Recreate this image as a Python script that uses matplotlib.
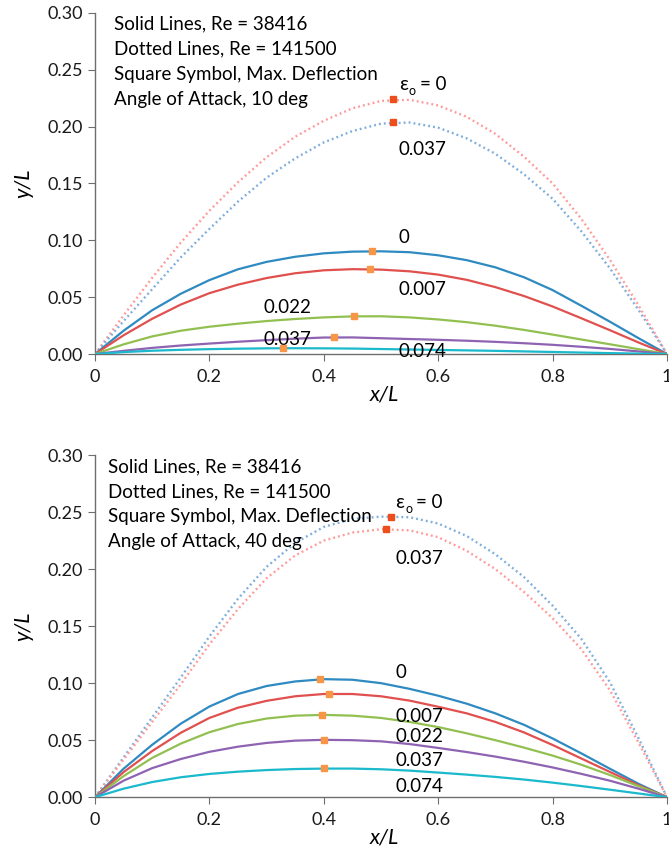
import matplotlib
import matplotlib.pyplot as plt

matplotlib.use("Agg")

X_GRID = [0.0, 0.05, 0.10, 0.15, 0.20, 0.25, 0.30, 0.35, 0.40, 0.45, 0.50,
          0.55, 0.60, 0.65, 0.70, 0.75, 0.80, 0.85, 0.90, 0.95, 1.0]

X_TICKS = [0, 0.2, 0.4, 0.6, 0.8, 1.0]
X_TICK_LABELS = ["0", "0.2", "0.4", "0.6", "0.8", "1"]
Y_TICKS = [0.0, 0.05, 0.10, 0.15, 0.20, 0.25, 0.30]
Y_TICK_LABELS = ["0.00", "0.05", "0.10", "0.15", "0.20", "0.25", "0.30"]

NOTES_10 = ["Solid Lines, Re = 38416", "Dotted Lines, Re = 141500",
            "Square Symbol, Max. Deflection", "Angle of Attack, 10 deg"]
NOTES_40 = ["Solid Lines, Re = 38416", "Dotted Lines, Re = 141500",
            "Square Symbol, Max. Deflection", "Angle of Attack, 40 deg"]

SOLID_EPS = ["0", "0.007", "0.022", "0.037", "0.074"]

# angle of attack 10 deg, Re = 38416 (solid)
AOA10_SOLID = [
    [0, 0.0205, 0.0385, 0.053, 0.065, 0.0745, 0.081, 0.0855, 0.0885, 0.0900, 0.0903,
     0.0895, 0.0868, 0.0825, 0.0762, 0.0675, 0.0562, 0.0425, 0.0285, 0.014, 0],
    [0, 0.0165, 0.031, 0.0435, 0.0535, 0.061, 0.0668, 0.071, 0.0736, 0.0746, 0.0742,
     0.0727, 0.0698, 0.0652, 0.0588, 0.051, 0.0418, 0.0315, 0.021, 0.0102, 0],
    [0, 0.0085, 0.0155, 0.0205, 0.024, 0.0267, 0.029, 0.0308, 0.0322, 0.0331, 0.0332,
     0.0322, 0.0304, 0.028, 0.0249, 0.0212, 0.0171, 0.0128, 0.0086, 0.0043, 0],
    [0, 0.0028, 0.0054, 0.0075, 0.0092, 0.0108, 0.0122, 0.0135, 0.0145, 0.0146, 0.0139,
     0.0132, 0.0125, 0.0117, 0.0107, 0.0095, 0.0081, 0.0064, 0.0045, 0.0023, 0],
    [0, 0.0017, 0.0029, 0.0037, 0.0043, 0.0047, 0.005, 0.0051, 0.005, 0.0048, 0.0044,
     0.004, 0.0036, 0.0032, 0.0028, 0.0023, 0.0018, 0.0013, 0.0008, 0.0004, 0],
]
AOA10_SOLID_MAX_X = [0.485, 0.481, 0.453, 0.418, 0.329]
AOA10_SOLID_MAX_Y = [0.0905, 0.0746, 0.0332, 0.0150, 0.0053]

# angle of attack 10 deg, Re = 141500 (dotted): eps = 0, 0.037
AOA10_DOTTED = [
    [0, 0.034, 0.067, 0.098, 0.126, 0.151, 0.173, 0.191, 0.205, 0.216, 0.2225,
     0.2235, 0.2185, 0.2085, 0.1935, 0.1735, 0.150, 0.119, 0.083, 0.043, 0],
    [0, 0.029, 0.057, 0.085, 0.110, 0.134, 0.155, 0.172, 0.186, 0.196, 0.2025,
     0.2035, 0.199, 0.1895, 0.176, 0.158, 0.1365, 0.108, 0.0755, 0.039, 0],
]
AOA10_DOTTED_MAX_X = [0.521, 0.521]
AOA10_DOTTED_MAX_Y = [0.224, 0.204]

# angle of attack 40 deg, Re = 38416 (solid)
AOA40_SOLID = [
    [0, 0.025, 0.046, 0.0645, 0.0795, 0.0905, 0.0975, 0.1015, 0.1035, 0.103, 0.100,
     0.095, 0.089, 0.082, 0.0735, 0.0635, 0.0515, 0.0385, 0.025, 0.0118, 0],
    [0, 0.022, 0.0405, 0.0565, 0.0695, 0.0785, 0.0845, 0.0885, 0.0905, 0.0905, 0.0885,
     0.0847, 0.0793, 0.0735, 0.066, 0.0568, 0.0458, 0.034, 0.0222, 0.0106, 0],
    [0, 0.0185, 0.0345, 0.047, 0.057, 0.0642, 0.069, 0.0715, 0.0722, 0.0715, 0.0695,
     0.066, 0.0615, 0.056, 0.050, 0.0435, 0.0365, 0.0285, 0.0195, 0.0097, 0],
    [0, 0.0145, 0.0255, 0.0335, 0.0398, 0.0443, 0.0476, 0.0496, 0.0503, 0.050, 0.049,
     0.0466, 0.0432, 0.0396, 0.0356, 0.0311, 0.0261, 0.0205, 0.0145, 0.0075, 0],
    [0, 0.0075, 0.0133, 0.0175, 0.0204, 0.0224, 0.0238, 0.0247, 0.0251, 0.0251, 0.0245,
     0.0233, 0.0216, 0.0198, 0.0178, 0.0155, 0.0128, 0.0098, 0.0066, 0.0033, 0],
]
AOA40_SOLID_MAX_X = [0.393, 0.409, 0.397, 0.400, 0.400]
AOA40_SOLID_MAX_Y = [0.1036, 0.0907, 0.0720, 0.0503, 0.0252]

# angle of attack 40 deg, Re = 141500 (dotted): eps = 0, 0.037
AOA40_DOTTED = [
    [0, 0.035, 0.070, 0.105, 0.141, 0.174, 0.202, 0.223, 0.237, 0.244, 0.246,
     0.2455, 0.240, 0.229, 0.213, 0.193, 0.168, 0.139, 0.101, 0.052, 0],
    [0, 0.033, 0.066, 0.099, 0.134, 0.165, 0.192, 0.212, 0.225, 0.232, 0.235,
     0.234, 0.228, 0.216, 0.200, 0.180, 0.157, 0.130, 0.094, 0.048, 0],
]
AOA40_DOTTED_MAX_X = [0.518, 0.509]
AOA40_DOTTED_MAX_Y = [0.246, 0.235]

SOLID_COLORS = ["#2f8ac1", "#e0504e", "#92c050", "#8e63b2", "#1ab9cc"]
SOLID_MARK = "#f79646"
DOTTED_MARK = "#ee4d1c"

plt.rcParams["font.family"] = ["Lato", "DejaVu Sans"]
plt.rcParams["font.size"] = 13.5


def draw_panel(ax, solid, s_mx, s_my, dotted, d_mx, d_my, dotted_colors,
               notes, note_x, label_x, label_ys, eps_y, dot_lab_y):
    """
    Description:
        Draw one deflection panel (solid + dotted curves, max markers, labels).
    """
    for ys, c in zip(dotted, dotted_colors):
        ax.plot(X_GRID, ys, color=c, lw=1.7, ls=(0, (0.8, 1.3)), zorder=2)
    ax.plot(d_mx, d_my, "s", color=DOTTED_MARK, ms=4.5, zorder=5)

    for ys, c in zip(solid, SOLID_COLORS):
        ax.plot(X_GRID, ys, color=c, lw=1.6, zorder=3, solid_joinstyle="round")
    ax.plot(s_mx, s_my, "s", color=SOLID_MARK, ms=4.5, zorder=5)

    for i, t in enumerate(notes):
        ax.text(note_x, 0.290 - 0.022 * i, t, ha="left", va="center")

    # eps_o = 0 label
    ax.text(label_x, eps_y, "ε", ha="left", va="center", fontsize=14)
    ax.annotate("o", (label_x, eps_y), xytext=(7.2, -4.5), textcoords="offset points",
                ha="left", va="center", fontsize=9)
    ax.annotate("= 0", (label_x, eps_y), xytext=(15, 0), textcoords="offset points",
                ha="left", va="center")
    ax.text(label_x, dot_lab_y, "0.037", ha="left", va="center")

    for (lx, ly), t in zip(label_ys, SOLID_EPS):
        ax.text(lx, ly, t, ha="left", va="center")

    ax.set_xlim(0, 1)
    ax.set_ylim(0, 0.30)
    ax.set_xticks(X_TICKS)
    ax.set_xticklabels(X_TICK_LABELS)
    ax.set_yticks(Y_TICKS)
    ax.set_yticklabels(Y_TICK_LABELS)
    for s in ("top", "right"):
        ax.spines[s].set_visible(False)
    for s in ("left", "bottom"):
        ax.spines[s].set_color("#6e6e6e")
        ax.spines[s].set_linewidth(1.0)
    ax.tick_params(direction="out", length=5, color="#6e6e6e", labelsize=13,
                   labelcolor="#1a1a1a")
    ax.tick_params(axis="x", pad=6)
    ax.set_xlabel("x/L", style="italic", fontsize=15.5)
    ax.set_ylabel("y/L", style="italic", fontsize=15.5)
    ax.xaxis.set_label_coords(0.505, -0.088)
    ax.yaxis.set_label_coords(-0.108, 0.5)


def main():
    fig = plt.figure(figsize=(6.69, 8.49), dpi=100)
    ax1 = fig.add_axes([0.142, 0.583, 0.855, 0.402])
    ax2 = fig.add_axes([0.142, 0.061, 0.855, 0.403])

    draw_panel(ax1, AOA10_SOLID, AOA10_SOLID_MAX_X, AOA10_SOLID_MAX_Y,
               AOA10_DOTTED, AOA10_DOTTED_MAX_X, AOA10_DOTTED_MAX_Y,
               ["#ff9a9a", "#7faedc"], NOTES_10, 0.033, 0.531,
               [(0.531, 0.102), (0.531, 0.057), (0.294, 0.041),
                (0.294, 0.0124), (0.531, 0.0025)],
               0.237, 0.180)
    draw_panel(ax2, AOA40_SOLID, AOA40_SOLID_MAX_X, AOA40_SOLID_MAX_Y,
               AOA40_DOTTED, AOA40_DOTTED_MAX_X, AOA40_DOTTED_MAX_Y,
               ["#7faedc", "#ff9a9a"], NOTES_40, 0.023, 0.525,
               [(0.525, 0.109), (0.525, 0.071), (0.525, 0.053),
                (0.525, 0.032), (0.525, 0.009)],
               0.258, 0.2096)

    fig.savefig("out.png", dpi=100)
    return 0


if __name__ == "__main__":
    main()
